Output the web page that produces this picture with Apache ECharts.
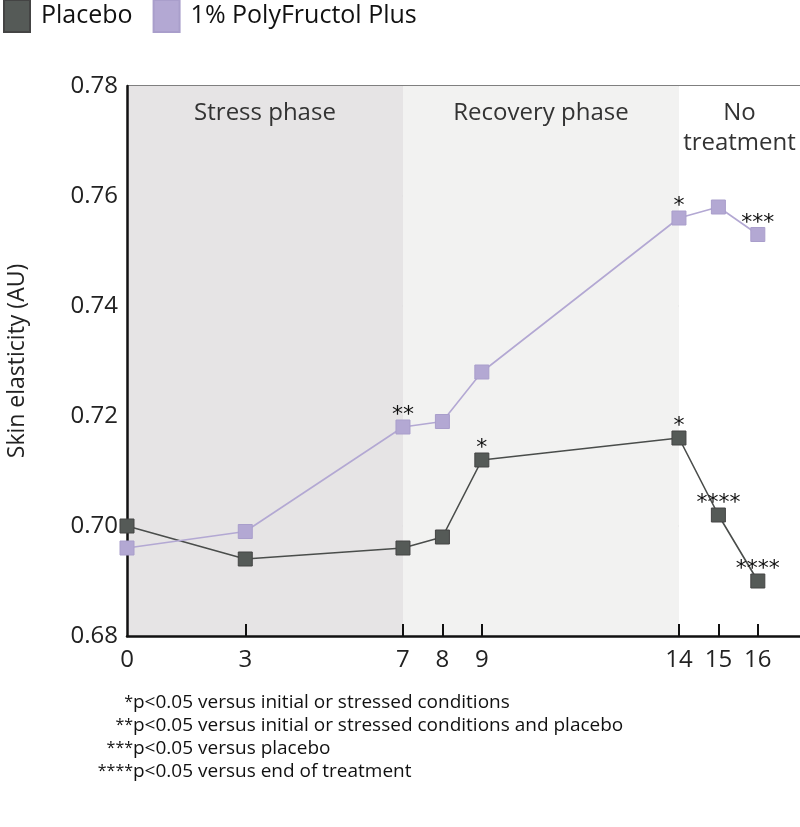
<!DOCTYPE html>
<html>
<head>
<meta charset="utf-8">
<script src="https://cdn.jsdelivr.net/npm/echarts@6/dist/echarts.min.js"></script>
<style>
  html, body { margin: 0; padding: 0; background: #fff; }
  #chart { width: 800px; height: 827px; }
</style>
</head>
<body>
<div id="chart"></div>
<script>
// Days of the study and the measured skin elasticity
var days = [0, 3, 7, 8, 9, 14, 15, 16];
var placebo = [0.700, 0.694, 0.696, 0.698, 0.712, 0.716, 0.702, 0.690];
var polyFructol = [0.696, 0.699, 0.718, 0.719, 0.728, 0.756, 0.758, 0.753];
// significance stars above each point
var placeboStars = ['', '', '', '', '*', '*', '****', '****'];
var polyStars = ['', '', '**', '', '', '*', '', '***'];
var phases = [
    { name: 'Stress phase', from: 0, to: 7 },
    { name: 'Recovery phase', from: 7, to: 14 },
    { name: 'No\ntreatment', from: 14, to: 17.07 }
];
var footnotes = [
    ['*', 'p<0.05 versus initial or stressed conditions'],
    ['**', 'p<0.05 versus initial or stressed conditions and placebo'],
    ['***', 'p<0.05 versus placebo'],
    ['****', 'p<0.05 versus end of treatment']
];

var font = 'Open Sans';
var myChart = echarts.init(document.getElementById('chart'));

function toPoints(values) {
    return days.map(function (d, i) { return [d, values[i]]; });
}

function starLabel(stars) {
    return {
        show: true,
        position: 'top',
        distance: -7,
        fontSize: 22,
        fontFamily: 'DejaVu Sans',
        color: '#111',
        formatter: function (p) { return stars[p.dataIndex]; }
    };
}

var phaseColors = ['#e6e4e5', '#f2f2f1', '#ffffff'];

var option = {
    animation: false,
    textStyle: { fontFamily: font },
    legend: {
        left: -2,
        top: -6,
        itemWidth: 26,
        itemHeight: 32,
        itemGap: 20,
        icon: 'rect',
        textStyle: { fontSize: 25, color: '#111', fontFamily: font, padding: [0, 0, 0, 6] },
        data: ['Placebo', '1% PolyFructol Plus']
    },
    grid: { left: 127, right: 0, top: 86, bottom: 191, outerBoundsMode: 'none', containLabel: false },
    xAxis: {
        type: 'value',
        min: 0,
        max: 17.07,
        splitLine: { show: false },
        axisLine: { onZero: false, lineStyle: { color: '#111', width: 2.5 } },
        axisTick: {
            show: true, inside: true, length: 12,
            customValues: days.slice(1),
            lineStyle: { color: '#111', width: 2 }
        },
        axisLabel: {
            customValues: days,
            fontSize: 24, color: '#222', margin: 12
        }
    },
    yAxis: {
        type: 'value',
        min: 0.68,
        max: 0.78,
        interval: 0.02,
        name: 'Skin elasticity (AU)',
        nameLocation: 'middle',
        nameGap: 98,
        nameTextStyle: { fontSize: 23, color: '#222' },
        axisLine: { show: true, lineStyle: { color: '#111', width: 2.5 } },
        axisTick: { show: false },
        axisLabel: {
            fontSize: 24, color: '#222', margin: 9,
            formatter: function (v) { return v.toFixed(2); }
        },
        splitLine: { show: true, lineStyle: { color: '#555', width: 1.5 } }
    },
    graphic: footnotes.map(function (f, i) {
        return {
            type: 'group',
            children: [
                { type: 'text', x: 133, y: 694 + i * 23, style: { text: f[0], align: 'right', font: '16px ' + font, fill: '#111' } },
                { type: 'text', x: 133, y: 693 + i * 23, style: { text: f[1], align: 'left', font: '19px ' + font, fill: '#111' } }
            ]
        };
    }),
    series: [
        {
            name: 'Placebo',
            type: 'line',
            data: toPoints(placebo),
            symbol: 'rect',
            symbolSize: 14,
            z: 3,
            itemStyle: { color: '#555a57', borderColor: '#444', borderWidth: 1 },
            lineStyle: { color: '#4a4d4b', width: 1.6 },
            label: starLabel(placeboStars),
            markArea: {
                silent: true,
                z: 0,
                label: {
                    position: 'insideTop', distance: 12,
                    fontSize: 24, color: '#333', fontFamily: font, lineHeight: 30
                },
                data: phases.map(function (p, i) {
                    return [
                        { name: p.name, xAxis: p.from, itemStyle: { color: phaseColors[i] } },
                        { xAxis: p.to }
                    ];
                })
            }
        },
        {
            name: '1% PolyFructol Plus',
            type: 'line',
            data: toPoints(polyFructol),
            symbol: 'rect',
            symbolSize: 14,
            z: 3,
            itemStyle: { color: '#b3a8d3', borderColor: '#a99ecb', borderWidth: 1 },
            lineStyle: { color: '#b3a8d3', width: 1.6 },
            label: starLabel(polyStars)
        }
    ]
};

myChart.setOption(option);
</script>
</body>
</html>
